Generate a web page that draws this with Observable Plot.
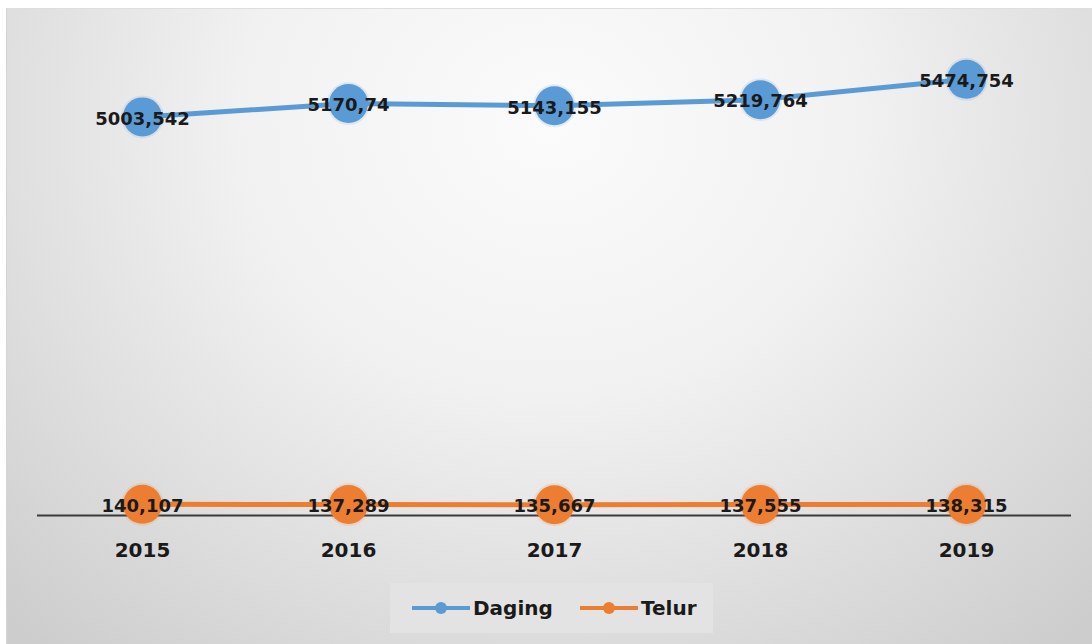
<!DOCTYPE html>
<html>
<head>
<meta charset="utf-8">
<script src="https://cdn.jsdelivr.net/npm/d3@7"></script>
<script src="https://cdn.jsdelivr.net/npm/@observablehq/plot@0.6"></script>
<style>
  html, body { margin: 0; padding: 0; background: #ffffff; width: 1092px; height: 644px; overflow: hidden; }
  #bg {
    position: absolute; left: 6px; top: 8px; width: 1086px; height: 636px;
    background: radial-gradient(ellipse 72% 108% at 50% 18%, #fbfbfb 0%, #f1f1f1 40%, #dcdcdc 75%, #cdcdcd 100%);
    border-top: 1px solid #dedede; border-left: 1px solid #d4d4d4; box-sizing: border-box;
  }
  #chart { position: absolute; left: 0; top: 0; }
  #legend {
    position: absolute; left: 390px; top: 583px; width: 323px; height: 50px;
    background: #e3e3e3; font-family: "DejaVu Sans", sans-serif; font-weight: bold; font-size: 20px; color: #1a1a1a;
  }
  .li { position: absolute; top: 0; height: 50px; display: flex; align-items: center; }
  .li svg { display: block; }
  .li span { margin-left: 3px; }
</style>
</head>
<body>
<div id="bg"></div>
<div id="chart"></div>
<div id="legend">
  <div class="li" style="left:22px"><svg width="58" height="14"><line x1="0" y1="7" x2="58" y2="7" stroke="#5b9bd5" stroke-width="4"/><circle cx="29" cy="7" r="6" fill="#5b9bd5"/></svg><span>Daging</span></div>
  <div class="li" style="left:190px"><svg width="58" height="14"><line x1="0" y1="7" x2="58" y2="7" stroke="#ed7d31" stroke-width="4"/><circle cx="29" cy="7" r="6" fill="#ed7d31"/></svg><span>Telur</span></div>
</div>
<script>
const years = ["2015", "2016", "2017", "2018", "2019"];
const daging = [5003.542, 5170.74, 5143.155, 5219.764, 5474.754];
const telur = [140.107, 137.289, 135.667, 137.555, 138.315];
const seriesNames = ["Daging", "Telur"];
const colors = ["#5b9bd5", "#ed7d31"];

const rows = [];
years.forEach((y, i) => {
  rows.push({year: y, series: seriesNames[0], value: daging[i]});
  rows.push({year: y, series: seriesNames[1], value: telur[i]});
});
const fmt = v => String(v).replace(".", ",");

const chart = Plot.plot({
  width: 1092,
  height: 575,
  marginLeft: 37,
  marginRight: 21,
  marginTop: 37,
  marginBottom: 60,
  style: {background: "transparent", fontFamily: "DejaVu Sans, sans-serif"},
  x: {type: "point", domain: years, padding: 0.5},
  y: {domain: [0, 6000], axis: null},
  color: {domain: seriesNames, range: colors},
  marks: [
    Plot.ruleY([0], {stroke: "#3a3a3a", strokeWidth: 2}),
    Plot.line(rows, {x: "year", y: "value", z: "series", stroke: "series", strokeWidth: 5}),
    Plot.dot(rows, {x: "year", y: "value", fill: "series", r: 21.5, fillOpacity: 0.15}),
    Plot.dot(rows, {x: "year", y: "value", fill: "series", r: 19.5}),
    Plot.text(rows, {x: "year", y: "value", text: d => fmt(d.value), fontSize: 18, fontWeight: "bold", fill: "#1a1a1a", dy: 2}),
    Plot.axisX({tickSize: 0, tickPadding: 27, fontSize: 20, fontWeight: "bold", fill: "#1a1a1a", label: null})
  ]
});
document.getElementById("chart").appendChild(chart);
</script>
</body>
</html>
